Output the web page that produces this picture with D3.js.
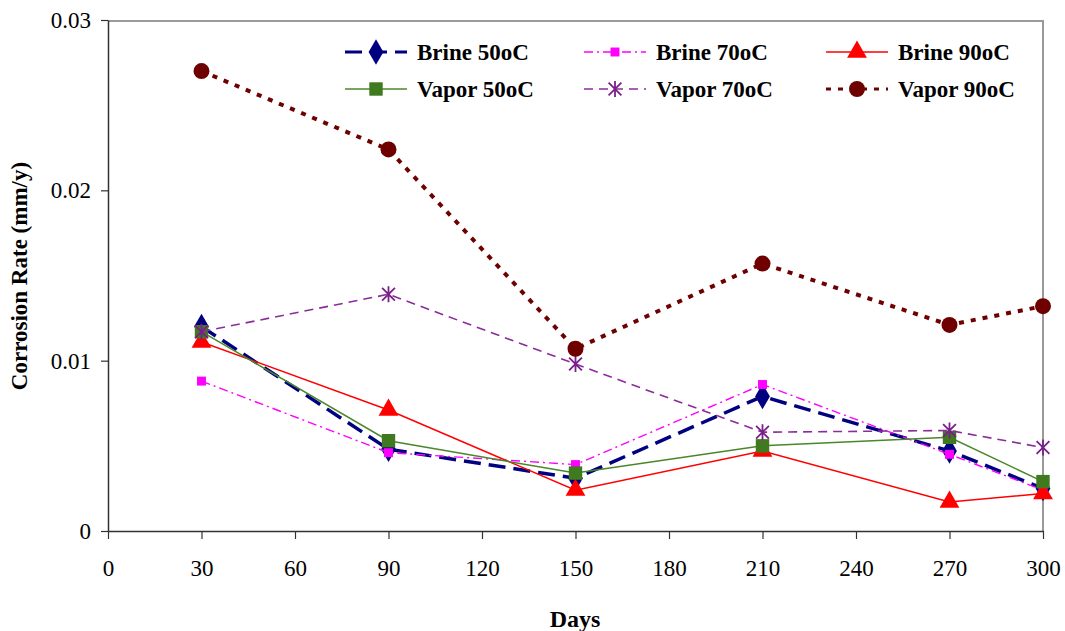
<!DOCTYPE html>
<html><head><meta charset="utf-8">
<script src="https://cdnjs.cloudflare.com/ajax/libs/d3/7.8.5/d3.min.js"></script>
<style>body{margin:0;background:#fff}svg{display:block}</style>
</head><body><svg id="c" width="1065" height="631"></svg>
<script>
const days = [30, 90, 150, 210, 270, 300];
const brine50 = [0.0120, 0.0048, 0.0031, 0.0079, 0.0047, 0.0025];
const brine70 = [0.0088, 0.0046, 0.0039, 0.0086, 0.0045, 0.0024];
const brine90 = [0.0111, 0.0071, 0.0024, 0.0047, 0.0017, 0.0022];
const vapor50 = [0.0117, 0.0053, 0.0034, 0.0050, 0.0055, 0.0029];
const vapor70 = [0.0117, 0.0139, 0.0098, 0.0058, 0.0059, 0.0049];
const vapor90 = [0.0270, 0.0224, 0.0107, 0.0157, 0.0121, 0.0132];
const xTicks = [0, 30, 60, 90, 120, 150, 180, 210, 240, 270, 300];
const yTicks = [0, 0.01, 0.02, 0.03];
const yTickLabels = ["0", "0.01", "0.02", "0.03"];

const FONT = "'Liberation Serif', 'Times New Roman', serif";

const series = [
  {name:"Brine 50oC", values:brine50, color:"#000080", width:3.5, dash:"17,8", marker:"diamond", mcolor:"#000080", size:190},
  {name:"Brine 70oC", values:brine70, color:"#FF00FF", width:1.4, dash:"9,4,2,4", marker:"square", mcolor:"#FF00FF", size:80},
  {name:"Brine 90oC", values:brine90, color:"#FF0000", width:1.5, dash:null, marker:"triangle", mcolor:"#FF0000", size:170},
  {name:"Vapor 50oC", values:vapor50, color:"#4A862A", width:1.5, dash:null, marker:"square", mcolor:"#3F7A1F", size:180},
  {name:"Vapor 70oC", values:vapor70, color:"#8B2C9B", width:1.6, dash:"9,6", marker:"star", mcolor:"#7A1F8A", size:16},
  {name:"Vapor 90oC", values:vapor90, color:"#6E0000", width:4, dash:"5,7", marker:"circle", mcolor:"#6E0000", size:200}
];

const L = 108, R = 1043, T = 20, B = 531;
const svg = d3.select("#c").style("font-family", FONT);
const x = d3.scaleLinear().domain([0, 300]).range([L, R]);
const y = d3.scaleLinear().domain([0, 0.03]).range([B, T]);

svg.append("path").attr("d", `M${L},${T+1}H${R}V${B}`).attr("fill","none").attr("stroke","#9a9a9a").attr("stroke-width",2);

const gx = svg.append("g").attr("transform", `translate(0,${B})`)
  .call(d3.axisBottom(x).tickValues(xTicks).tickSize(8).tickPadding(21).tickSizeOuter(0));
const gy = svg.append("g").attr("transform", `translate(${L},0)`)
  .call(d3.axisLeft(y).tickValues(yTicks).tickFormat((d,i)=>yTickLabels[i]).tickSize(7).tickPadding(10).tickSizeOuter(0));
[gx, gy].forEach(g => {
  g.attr("font-family", FONT);
  g.select(".domain").attr("stroke","#333").attr("stroke-width",1.5);
  g.selectAll(".tick line").attr("stroke","#333").attr("stroke-width",1.2);
  g.selectAll(".tick text").attr("font-size",23).attr("fill","#000").style("font-family", FONT);
});

svg.append("text").attr("x", 575).attr("y", 627).attr("text-anchor","middle").style("font-family", FONT)
  .attr("font-size",24).attr("font-weight","bold").text("Days");
svg.append("text").attr("transform","translate(27,276) rotate(-90)").attr("text-anchor","middle").style("font-family", FONT)
  .attr("font-size",23).attr("font-weight","bold").text("Corrosion Rate (mm/y)");

function drawMarker(g, s, cx, cy) {
  if (s.marker === "star") {
    const r = s.size/2;
    g.append("path")
      .attr("d", `M${cx},${cy-r}V${cy+r}M${cx-r*0.8},${cy-r*0.8}L${cx+r*0.8},${cy+r*0.8}M${cx-r*0.8},${cy+r*0.8}L${cx+r*0.8},${cy-r*0.8}`)
      .attr("stroke", s.mcolor).attr("stroke-width",1.8).attr("fill","none");
    return;
  }
  const type = {diamond:d3.symbolDiamond, square:d3.symbolSquare, triangle:d3.symbolTriangle, circle:d3.symbolCircle}[s.marker];
  g.append("path").attr("d", d3.symbol(type, s.size)())
    .attr("transform", `translate(${cx},${cy})`).attr("fill", s.mcolor);
}

const line = d3.line().x((d,i)=>x(days[i])).y(d=>y(d));
series.forEach(s => {
  const g = svg.append("g");
  g.append("path").attr("d", line(s.values)).attr("fill","none")
    .attr("stroke", s.color).attr("stroke-width", s.width)
    .attr("stroke-dasharray", s.dash);
  s.values.forEach((v,i) => drawMarker(g, s, x(days[i]), y(v)));
});

// legend
const cols = [376, 615, 857];
const rows = [52, 89];
series.forEach((s, i) => {
  const cx = cols[i % 3], cy = rows[Math.floor(i / 3)];
  const g = svg.append("g");
  g.append("line").attr("x1", cx-31).attr("x2", cx+31).attr("y1", cy).attr("y2", cy)
    .attr("stroke", s.color).attr("stroke-width", Math.min(s.width, 3)).attr("stroke-dasharray", s.dash);
  drawMarker(g, s, cx, cy);
  g.append("text").attr("x", cx+41).attr("y", cy+8).style("font-family", FONT)
    .attr("font-size",23).attr("font-weight","bold").text(s.name);
});
</script></body></html>
